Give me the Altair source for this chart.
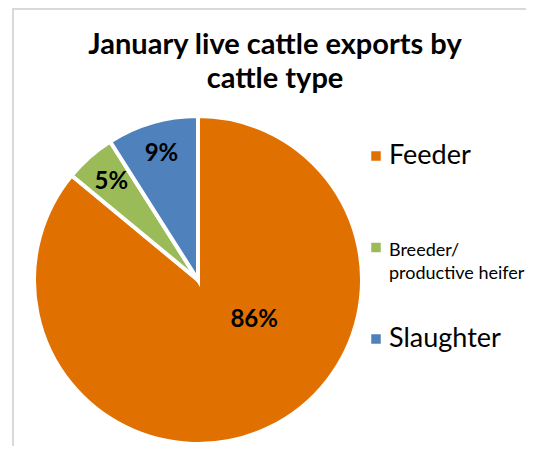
import altair as alt
import pandas as pd

# ---- data ----
categories = ["Feeder", "Breeder/\nproductive heifer", "Slaughter"]
shares = [86, 5, 9]
pct_labels = ["86%", "5%", "9%"]
colors = ["#E07000", "#9BBB59", "#4F81BD"]
title_lines = ["January live cattle exports by", "cattle type"]

df = pd.DataFrame({
    "category": categories,
    "share": shares,
    "label": pct_labels,
    "order": list(range(len(categories))),
})

FONT = "Lato"
CX, CY, R = 190, 272, 164

color_enc = alt.Color("category:N", scale=alt.Scale(domain=categories, range=colors), legend=None)
theta_enc = alt.Theta("share:Q", stack=True)
order_enc = alt.Order("order:Q")

base = alt.Chart(df)

arcs = base.mark_arc(outerRadius=R, stroke="white", strokeWidth=4).encode(
    theta=theta_enc, color=color_enc, order=order_enc,
    x=alt.value(CX), y=alt.value(CY),
)

small_labels = base.transform_calculate(
    txt="datum.category == 'Feeder' ? '' : datum.label"
).mark_text(radius=131, font=FONT, fontSize=24, fontWeight="bold", color="black").encode(
    theta=theta_enc, order=order_enc, text="txt:N",
    x=alt.value(CX), y=alt.value(CY),
)

big_label = base.transform_calculate(
    txt="datum.category == 'Feeder' ? datum.label : ''"
).mark_text(radius=69, thetaOffset=-0.511, font=FONT, fontSize=24, fontWeight="bold", color="black").encode(
    theta=theta_enc, order=order_enc, text="txt:N",
    x=alt.value(CX), y=alt.value(CY),
)

legend_y = alt.Y("category:N", sort=categories, scale=alt.Scale(range=[148, 331], padding=0), axis=None)

legend_squares = base.mark_square(size=90, opacity=1).encode(
    x=alt.value(368), y=legend_y, color=color_enc,
)

legend_text = base.mark_text(
    align="left", baseline="alphabetic", dy=8, lineBreak="\n", lineHeight=23,
    font=FONT, color="black",
).encode(
    x=alt.value(381), y=legend_y, text="category:N",
    size=alt.condition("indexof(datum.category, 'Breeder') >= 0", alt.value(18), alt.value(27)),
)

frame_left = base.mark_rule(color="#d9d9d9", strokeWidth=1.5).encode(
    x=alt.value(5), y=alt.value(0), y2=alt.value(438),
)
frame_top = base.mark_rule(color="#d9d9d9", strokeWidth=1.5).encode(
    x=alt.value(5), x2=alt.value(518), y=alt.value(1),
)

title = alt.Chart(pd.DataFrame({"t": [0]})).mark_text(
    text=title_lines, font=FONT, fontSize=29, fontWeight="bold", color="black",
    align="center", baseline="alphabetic", lineHeight=34,
).encode(x=alt.value(267), y=alt.value(46))

chart = alt.layer(
    frame_left, frame_top, arcs, small_labels, big_label, legend_squares, legend_text, title
).properties(
    width=518,
    height=438,
    padding=0,
    autosize="none",
).configure_view(stroke=None)

chart.save("out.html", embed_options={"renderer": "svg", "actions": False})
